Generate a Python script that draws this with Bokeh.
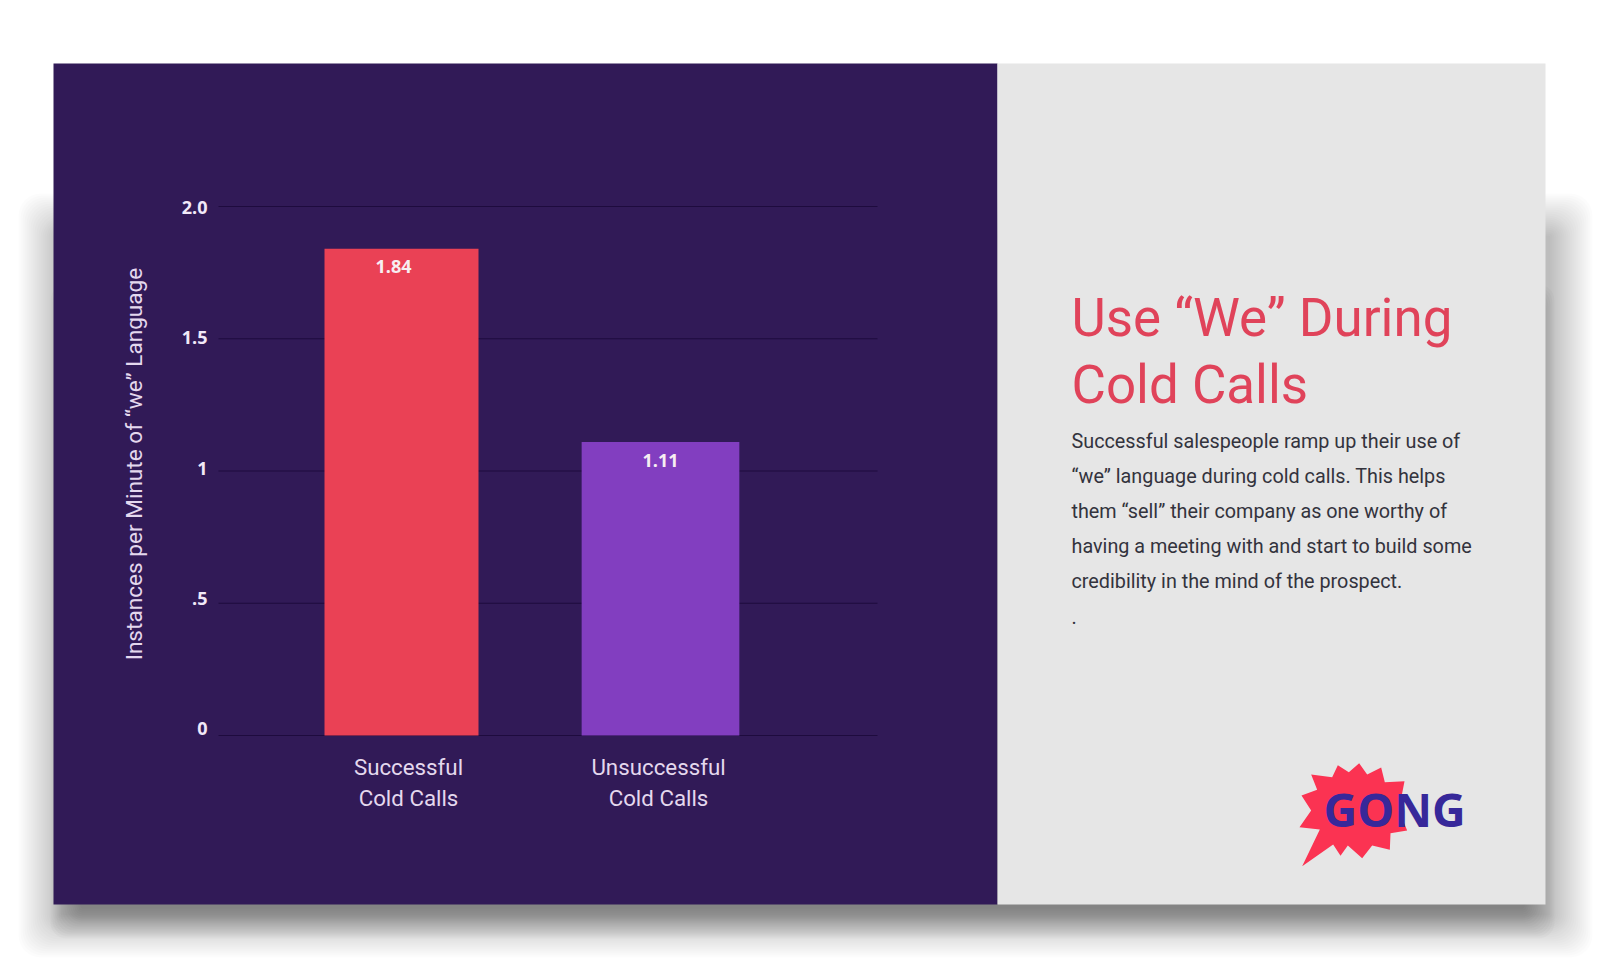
from bokeh.core.properties import value
from bokeh.embed import file_html
from bokeh.models import ColumnDataSource, FixedTicker, LinearAxis, Range1d
from bokeh.plotting import figure
from bokeh.resources import INLINE

categories = ["Successful", "Unsuccessful"]
category_labels = ["Successful\nCold Calls", "Unsuccessful\nCold Calls"]
values = [1.84, 1.11]
value_labels = ["1.84", "1.11"]
y_ticks = [0, 0.5, 1, 1.5, 2]
y_tick_labels = ["0", ".5", "1", "1.5", "2.0"]
y_title = "Instances per Minute of “we” Language"
title_lines = ["Use “We” During", "Cold Calls"]
body_lines = [
    "Successful salespeople ramp up their use of",
    "“we” language during cold calls. This helps",
    "them “sell” their company as one worthy of",
    "having a meeting with and start to build some",
    "credibility in the mind of the prospect.",
    ".",
]

# canvas in picture pixels
CL, CR, CT, CB = 0, 1600, 0, 968
# chart geometry in picture pixels
Y0, Y_PER = 735, 264.5
LY0, LY_PER = 728, 260.5
X_C0, X_PER = 401, 259
LX_C0, LX_PER = 408, 250
GRID_L, GRID_R = 218, 877

p = figure(width=CR - CL, height=CB - CT, output_backend="svg", toolbar_location=None,
           x_range=Range1d(CL, CR), y_range=Range1d(CB, CT),
           x_axis_type=None, y_axis_type=None, min_border=0,
           border_fill_color="white", background_fill_color="white", outline_line_color=None)

p.extra_y_ranges = {
    "chart": Range1d((Y0 - CB) / Y_PER, (Y0 - CT) / Y_PER),
    "tick_labels": Range1d((LY0 - CB) / LY_PER, (LY0 - CT) / LY_PER),
}
p.extra_x_ranges = {
    "chart": Range1d(0.5 + (CL - X_C0) / X_PER, 0.5 + (CR - X_C0) / X_PER),
    "cat_labels": Range1d(0.5 + (CL - LX_C0) / LX_PER, 0.5 + (CR - LX_C0) / LX_PER),
}


def shadow(l, r, t, b, blur, alpha):
    for d in range(-blur, blur, 2):
        p.quad(left=l + d, right=r - d, top=t + d, bottom=b - d, fill_color="#000000",
               fill_alpha=alpha, line_color=None, border_radius=max(0, min(blur, blur - d)))


# drop shadow: stacked translucent boxes
shadow(40, 1570, 215, 935, 22, 0.0137)
shadow(66, 1538, 300, 922, 16, 0.02)

# panels
p.quad(left=53, right=997, top=63, bottom=904, fill_color="#311a57", line_color=None)
p.quad(left=997, right=1545, top=63, bottom=904, fill_color="#e6e6e6", line_color=None)

# grid lines
p.segment(x0=[GRID_L] * len(y_ticks), x1=[GRID_R] * len(y_ticks), y0=y_ticks, y1=y_ticks,
          y_range_name="chart", line_color="#1e0b3e", line_width=1)

# bars
xs = [i + 0.5 for i in range(len(categories))]
source = ColumnDataSource(dict(x=xs, top=values, width=[154 / X_PER, 157.7 / X_PER],
                               color=["#ea4155", "#823ec0"], label=value_labels,
                               dx=[-8, 0], dy=[17.2, 19]))
p.vbar(x="x", top="top", bottom=0, width="width", fill_color="color", line_color=None, source=source,
       x_range_name="chart", y_range_name="chart")
p.text(x="x", y="top", text="label", x_offset="dx", y_offset="dy", source=source,
       x_range_name="chart", y_range_name="chart",
       text_align="center", text_baseline="middle", text_font=value("Open Sans"),
       text_font_style="bold", text_font_size="18px", text_color="#f7eef2")

# y axis (labels sit a little off the grid lines in the reference)
p.add_layout(LinearAxis(y_range_name="tick_labels", fixed_location=GRID_L, bounds=(0, 2.03),
                        ticker=FixedTicker(ticks=y_ticks),
                        major_label_overrides=dict(zip(y_ticks, y_tick_labels)),
                        axis_line_color=None, major_tick_line_color=None, minor_tick_line_color=None,
                        major_label_text_color="#f1e9f8", major_label_text_font="Open Sans",
                        major_label_text_font_style="bold", major_label_text_font_size="18px",
                        major_label_standoff=5, axis_label=y_title, axis_label_text_font="Roboto",
                        axis_label_text_font_size="22.6px", axis_label_text_font_style="normal",
                        axis_label_text_color="#e4d8ee", axis_label_standoff=31), "left")

# x axis
p.add_layout(LinearAxis(x_range_name="cat_labels", fixed_location=Y0,
                        ticker=FixedTicker(ticks=xs),
                        major_label_overrides=dict(zip(xs, category_labels)),
                        axis_line_color=None, major_tick_line_color=None, minor_tick_line_color=None,
                        major_label_text_color="#e4d8ee", major_label_text_font="Roboto",
                        major_label_text_font_size="22.3px", major_label_standoff=12), "below")

# right panel
title_ys = [317.6, 384.6]
p.text(x=[1071] * 2, y=title_ys, text=title_lines, text_font=value("Roboto"), text_font_size="52.9px",
       text_color="#e0435a", text_baseline="alphabetic")
body_ys = [440.5 + i * 35 for i in range(len(body_lines))]
p.text(x=[1071] * len(body_lines), y=body_ys, text=body_lines, text_font=value("Roboto"),
       text_font_size="19.8px", text_color="#33333d", text_baseline="alphabetic")

# logo
burst = [(152, 132), (215, 140), (232, 104), (265, 125), (296, 98), (320, 132), (362, 111), (373, 155),
         (432, 152), (415, 240), (440, 300), (390, 308), (388, 358), (335, 345), (305, 383), (262, 345),
         (240, 376), (218, 342), (125, 407), (178, 297), (117, 290), (152, 240), (123, 195), (170, 178)]
p.patch(x=[1260 + a / 3 for a, _ in burst], y=[730 + b / 3 for _, b in burst],
        fill_color="#fb3352", line_color=None)
p.text(x=[1323], y=[808.6], text=["GONG"], text_font=value("Open Sans"), text_font_style="bold",
       text_font_size="46.5px", text_color="#37289a", text_baseline="alphabetic")

open("out.html", "w").write(file_html(p, INLINE))
